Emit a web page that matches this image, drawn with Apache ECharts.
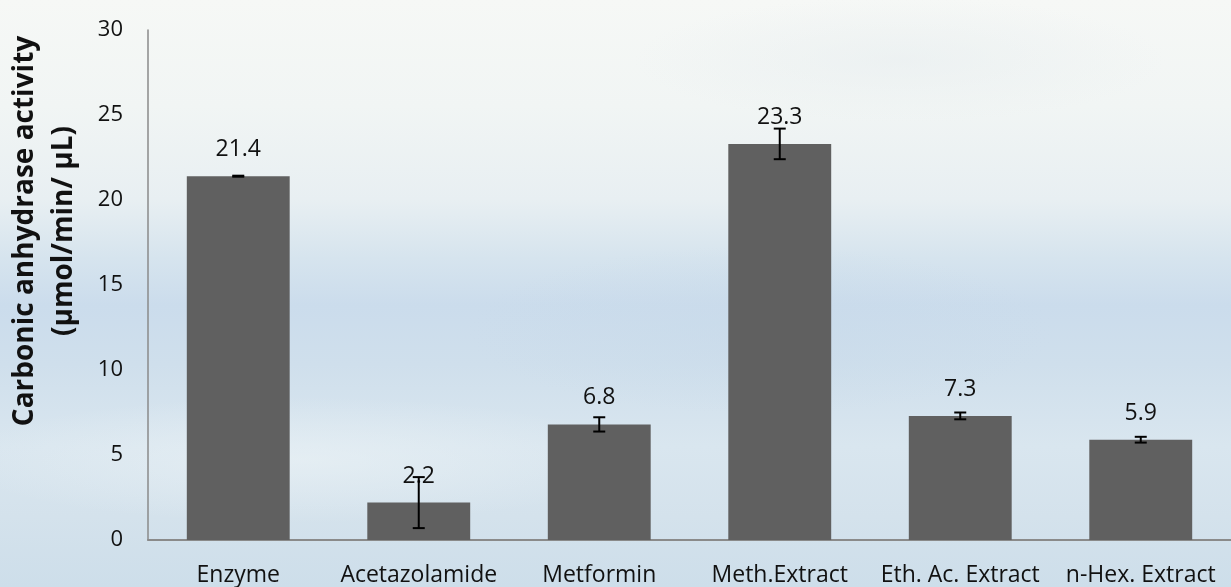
<!DOCTYPE html>
<html>
<head>
<meta charset="utf-8">
<script src="https://cdn.jsdelivr.net/npm/echarts@6/dist/echarts.min.js"></script>
<style>
  html, body { margin: 0; padding: 0; }
  #chart {
    width: 1231px; height: 587px;
    background:
      radial-gradient(ellipse 420px 120px at 760px 330px, rgba(200,218,234,0.55), rgba(200,218,234,0) 70%),
      radial-gradient(ellipse 500px 90px at 300px 460px, rgba(236,243,246,0.6), rgba(236,243,246,0) 70%),
      radial-gradient(ellipse 380px 90px at 900px 60px, rgba(232,238,240,0.6), rgba(232,238,240,0) 70%),
      linear-gradient(to bottom, #f6f8f6 0%, #f1f5f4 18%, #e8eff2 34%, #d6e4ee 44%, #cbdcec 52%, #cfdfec 62%, #d9e6ef 76%, #d4e2ec 88%, #cddeea 100%);
  }
</style>
</head>
<body>
<div id="chart"></div>
<script>
// Carbonic anhydrase activity per treatment, mean ± error
const categories = ['Enzyme', 'Acetazolamide', 'Metformin', 'Meth.Extract', 'Eth. Ac. Extract', 'n-Hex. Extract'];
const activity = [21.4, 2.2, 6.8, 23.3, 7.3, 5.9];
const errors = [0.03, 1.5, 0.42, 0.9, 0.2, 0.17];
const yTicks = { min: 0, max: 30, step: 5 };
const yTitle = ['Carbonic anhydrase activity', '(µmol/min/ µL)'];

const FONT = '"Open Sans", "Liberation Sans", sans-serif';
const chart = echarts.init(document.getElementById('chart'));

const errorData = activity.map((v, i) => [i, v - errors[i], v + errors[i]]);

chart.setOption({
  backgroundColor: 'transparent',
  animation: false,
  grid: { left: 148, right: 0, top: 30, bottom: 47, containLabel: false },
  xAxis: {
    type: 'category',
    data: categories,
    axisLine: { lineStyle: { color: '#8a8a8a', width: 2 } },
    axisTick: { show: false },
    axisLabel: { color: '#111', fontFamily: FONT, fontSize: 23, margin: 24, interval: 0 }
  },
  yAxis: {
    type: 'value',
    min: yTicks.min, max: yTicks.max, interval: yTicks.step,
    axisLine: { show: true, lineStyle: { color: '#8a8a8a', width: 1.5 } },
    axisTick: { show: false },
    splitLine: { show: false },
    axisLabel: { color: '#111', fontFamily: FONT, fontSize: 22, margin: 25 }
  },
  series: [
    {
      type: 'bar',
      data: activity,
      barWidth: '57%',
      itemStyle: { color: '#606060' },
      label: {
        show: true, position: 'top', distance: 15,
        color: '#111', fontFamily: FONT, fontSize: 23,
        formatter: p => p.value.toFixed(1)
      }
    },
    {
      type: 'custom',
      data: errorData,
      z: 5,
      renderItem: function (params, api) {
        const x = api.value(0);
        const lo = api.coord([x, api.value(1)]);
        const hi = api.coord([x, api.value(2)]);
        const hw = 6;
        const style = { stroke: '#000', lineWidth: 2 };
        return {
          type: 'group',
          children: [
            { type: 'line', shape: { x1: hi[0], y1: hi[1], x2: lo[0], y2: lo[1] }, style },
            { type: 'line', shape: { x1: hi[0] - hw, y1: hi[1], x2: hi[0] + hw, y2: hi[1] }, style },
            { type: 'line', shape: { x1: lo[0] - hw, y1: lo[1], x2: lo[0] + hw, y2: lo[1] }, style }
          ]
        };
      }
    }
  ],
  graphic: [
    {
      type: 'text', x: 25, y: 231, rotation: Math.PI / 2,
      style: { text: yTitle[0], fontFamily: FONT, fontWeight: 'bold', fontSize: 28, fill: '#111', align: 'center', verticalAlign: 'middle' }
    },
    {
      type: 'text', x: 64, y: 231, rotation: Math.PI / 2,
      style: { text: yTitle[1], fontFamily: FONT, fontWeight: 'bold', fontSize: 28, fill: '#111', align: 'center', verticalAlign: 'middle' }
    }
  ]
});
</script>
</body>
</html>
